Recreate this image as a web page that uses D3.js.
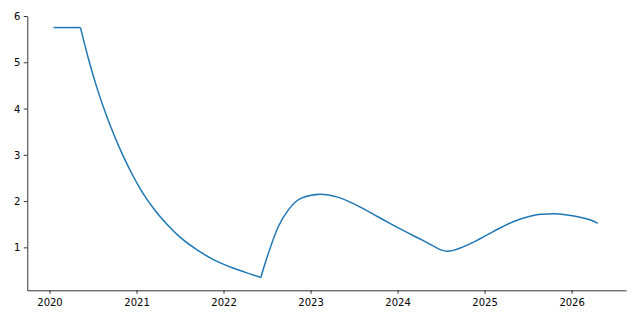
<!DOCTYPE html>
<html>
<head>
<meta charset="utf-8">
<script src="https://cdn.jsdelivr.net/npm/d3@7"></script>
<style>
  html, body { margin: 0; padding: 0; background: #fff; }
  svg { display: block; }
  text { font-family: "DejaVu Sans", sans-serif; }
</style>
</head>
<body>
<svg id="chart" width="640" height="320"></svg>
<script>
// ---- data (decimal years) ----
const flatDates = [2020.046, 2020.356];
const flatValues = [5.75, 5.75];

const declineDates = [2020.356, 2020.45, 2020.55, 2020.65, 2020.75, 2020.85, 2020.95, 2021.06,
  2021.2, 2021.35, 2021.5, 2021.7, 2021.9, 2022.1, 2022.25, 2022.428];
const declineValues = [5.75, 5.06, 4.42, 3.87, 3.39, 2.96, 2.58, 2.21,
  1.83, 1.50, 1.22, 0.94, 0.72, 0.56, 0.46, 0.35];

const riseDates = [2022.428, 2022.515, 2022.63, 2022.745, 2022.9, 2023.11, 2023.32, 2023.51,
  2023.7, 2023.89, 2024.08, 2024.28, 2024.42, 2024.5, 2024.57, 2024.65, 2024.74, 2024.85,
  2025.04, 2025.2, 2025.35, 2025.5, 2025.65, 2025.8, 2025.95, 2026.1, 2026.22, 2026.3];
const riseValues = [0.35, 0.87, 1.45, 1.81, 2.07, 2.15, 2.08, 1.93,
  1.74, 1.54, 1.35, 1.16, 1.02, 0.945, 0.915, 0.94, 1.00, 1.09,
  1.28, 1.44, 1.57, 1.66, 1.715, 1.725, 1.70, 1.65, 1.59, 1.52];

const xTicks = [2020, 2021, 2022, 2023, 2024, 2025, 2026];
const yTicks = [1, 2, 3, 4, 5, 6];

// ---- layout ----
const svg = d3.select("#chart");
const plotLeft = 27.3, plotRight = 626, plotTop = 16, plotBottom = 290.3;

const x = d3.scaleLinear().domain([2019.745, 2026.625]).range([plotLeft, plotRight]);
const y = d3.scaleLinear().domain([0.072, 6.0]).range([plotBottom, plotTop]);

const line = d3.line()
  .x(d => x(d[0]))
  .y(d => y(d[1]))
  .curve(d3.curveMonotoneX);

const segments = [
  d3.zip(flatDates, flatValues),
  d3.zip(declineDates, declineValues),
  d3.zip(riseDates, riseValues)
];

svg.append("g")
  .selectAll("path")
  .data(segments)
  .join("path")
  .attr("d", line)
  .attr("fill", "none")
  .attr("stroke", "#1f77b4")
  .attr("stroke-width", 1.5)
  .attr("stroke-linejoin", "round")
  .attr("stroke-linecap", "butt");

// ---- axes ----
const xAxis = d3.axisBottom(x)
  .tickValues(xTicks)
  .tickFormat(d3.format("d"))
  .tickSize(3.5)
  .tickSizeOuter(0)
  .tickPadding(3.5);

const yAxis = d3.axisLeft(y)
  .tickValues(yTicks)
  .tickFormat(d3.format("d"))
  .tickSize(3.5)
  .tickSizeOuter(0)
  .tickPadding(3.5);

const gx = svg.append("g").attr("transform", `translate(0,${plotBottom})`).call(xAxis);
const gy = svg.append("g").attr("transform", `translate(${plotLeft},0)`).call(yAxis);

[gx, gy].forEach(g => {
  g.select(".domain").attr("stroke", "#000").attr("stroke-width", 0.8);
  g.selectAll(".tick line").attr("stroke", "#000").attr("stroke-width", 0.8);
  g.selectAll(".tick text")
    .attr("fill", "#000")
    .style("font-family", "'DejaVu Sans', sans-serif")
    .style("font-size", "10px");
});
gx.selectAll(".tick text").attr("dy", "0.87em");
gy.selectAll(".tick text").attr("dy", "0.36em");
</script>
</body>
</html>
